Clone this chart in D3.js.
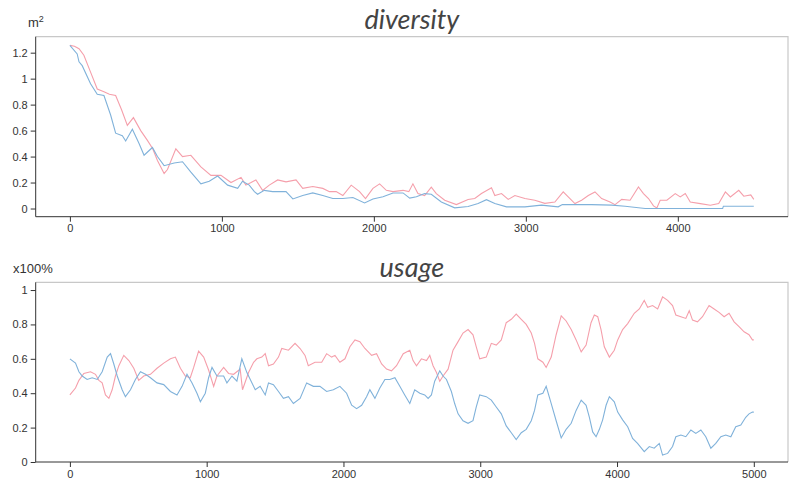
<!DOCTYPE html>
<html>
<head>
<meta charset="utf-8">
<script src="https://cdn.jsdelivr.net/npm/d3@7"></script>
<style>
  body { margin: 0; background: #fff; }
  svg { display: block; }
  .tick text { font-family: "Liberation Sans", Arial, sans-serif; font-size: 11px; fill: #333; }
  .title { font-family: Lato, "Open Sans", sans-serif; font-style: italic; font-size: 27px; fill: #444; }
  .unit { font-family: "Liberation Sans", Arial, sans-serif; font-size: 13px; fill: #333; }
</style>
</head>
<body>
<svg id="chart" width="793" height="480"></svg>
<script>
// readings as [t, value]

// diversity (m^2)
const diversityRed = [
  [0, 1.256], [30, 1.25], [60, 1.23], [92, 1.18], [136, 1.05], [180, 0.92], [224, 0.90], [260, 0.88],
  [301, 0.87], [340, 0.76], [378, 0.64], [418, 0.70], [466, 0.60], [510, 0.525], [545, 0.46], [576, 0.37],
  [620, 0.27], [642, 0.30], [697, 0.46], [741, 0.40], [796, 0.41], [862, 0.32], [928, 0.255], [994, 0.255],
  [1060, 0.20], [1126, 0.24], [1158, 0.18], [1192, 0.20], [1224, 0.22], [1268, 0.14], [1312, 0.18], [1367, 0.22],
  [1422, 0.205], [1488, 0.22], [1532, 0.155], [1598, 0.17], [1664, 0.155], [1708, 0.13], [1752, 0.13], [1796, 0.10],
  [1851, 0.18], [1906, 0.13], [1945, 0.077], [1994, 0.155], [2038, 0.19], [2082, 0.14], [2126, 0.13], [2192, 0.14],
  [2230, 0.13], [2257, 0.19], [2290, 0.115], [2334, 0.10], [2378, 0.165], [2411, 0.115], [2466, 0.064], [2543, 0.03],
  [2620, 0.07], [2664, 0.077], [2708, 0.115], [2774, 0.16], [2796, 0.10], [2840, 0.115], [2884, 0.07], [2928, 0.10],
  [2994, 0.077], [3059, 0.064], [3125, 0.04], [3191, 0.05], [3246, 0.128], [3279, 0.089], [3323, 0.038], [3367, 0.064],
  [3411, 0.10], [3455, 0.128], [3499, 0.077], [3554, 0.05], [3587, 0.03], [3631, 0.07], [3686, 0.064], [3741, 0.166],
  [3774, 0.115], [3807, 0.077], [3840, 0.02], [3862, 0.005], [3884, 0.064], [3928, 0.064], [3983, 0.115], [4016, 0.089],
  [4049, 0.115], [4082, 0.05], [4148, 0.038], [4214, 0.025], [4269, 0.038], [4313, 0.128], [4346, 0.089], [4401, 0.14],
  [4434, 0.095], [4480, 0.105], [4500, 0.07]
]
const diversityBlue = [
  [0, 1.256], [48, 1.19], [60, 1.13], [81, 1.10], [136, 0.96], [180, 0.88], [224, 0.87], [268, 0.72],
  [301, 0.58], [345, 0.56], [367, 0.52], [411, 0.61], [455, 0.50], [488, 0.41], [543, 0.47], [576, 0.40],
  [620, 0.33], [686, 0.35], [741, 0.36], [796, 0.28], [862, 0.19], [917, 0.21], [972, 0.25], [1038, 0.18],
  [1104, 0.155], [1136, 0.21], [1180, 0.18], [1214, 0.13], [1235, 0.11], [1279, 0.14], [1334, 0.13], [1422, 0.13],
  [1467, 0.074], [1532, 0.10], [1598, 0.12], [1664, 0.10], [1730, 0.077], [1796, 0.077], [1862, 0.085], [1939, 0.043],
  [1994, 0.074], [2060, 0.09], [2126, 0.12], [2192, 0.12], [2236, 0.08], [2280, 0.09], [2334, 0.115], [2378, 0.11],
  [2444, 0.05], [2532, 0.005], [2620, 0.015], [2686, 0.038], [2741, 0.068], [2796, 0.038], [2873, 0.013], [2994, 0.013],
  [3103, 0.026], [3213, 0.013], [3240, 0.03], [3433, 0.03], [3565, 0.026], [3653, 0.018], [3785, 0.0], [4295, 0.0],
  [4300, 0.018], [4500, 0.018]
]

// usage (x100%)
const usageRed = [
  [0, 0.39], [41, 0.43], [66, 0.475], [102, 0.515], [151, 0.525], [187, 0.51], [212, 0.475], [236, 0.46],
  [260, 0.39], [285, 0.37], [309, 0.42], [333, 0.50], [358, 0.56], [394, 0.62], [431, 0.59], [467, 0.545],
  [503, 0.475], [540, 0.50], [589, 0.51], [637, 0.545], [686, 0.575], [735, 0.60], [771, 0.61], [808, 0.545],
  [844, 0.50], [880, 0.49], [905, 0.55], [941, 0.645], [978, 0.61], [1014, 0.535], [1051, 0.44], [1075, 0.50],
  [1124, 0.55], [1160, 0.515], [1197, 0.51], [1245, 0.54], [1262, 0.42], [1306, 0.52], [1343, 0.58], [1367, 0.60],
  [1403, 0.61], [1428, 0.63], [1452, 0.56], [1488, 0.57], [1525, 0.61], [1549, 0.66], [1598, 0.65], [1646, 0.69],
  [1683, 0.66], [1719, 0.62], [1743, 0.56], [1792, 0.58], [1841, 0.58], [1877, 0.63], [1914, 0.61], [1938, 0.62],
  [1974, 0.58], [2011, 0.60], [2047, 0.67], [2084, 0.71], [2120, 0.70], [2157, 0.66], [2206, 0.62], [2242, 0.63],
  [2279, 0.57], [2315, 0.54], [2351, 0.53], [2388, 0.56], [2437, 0.63], [2485, 0.65], [2509, 0.59], [2534, 0.56],
  [2570, 0.60], [2607, 0.59], [2631, 0.62], [2655, 0.56], [2680, 0.52], [2704, 0.47], [2728, 0.50], [2765, 0.54],
  [2801, 0.65], [2838, 0.70], [2874, 0.75], [2911, 0.77], [2947, 0.74], [2971, 0.67], [2996, 0.60], [3044, 0.61],
  [3081, 0.69], [3117, 0.68], [3154, 0.71], [3190, 0.81], [3227, 0.83], [3263, 0.86], [3300, 0.83], [3336, 0.80],
  [3373, 0.75], [3397, 0.69], [3421, 0.60], [3458, 0.58], [3482, 0.55], [3519, 0.61], [3555, 0.74], [3592, 0.85],
  [3628, 0.82], [3665, 0.77], [3701, 0.71], [3738, 0.64], [3774, 0.68], [3810, 0.81], [3834, 0.855], [3859, 0.845],
  [3883, 0.77], [3907, 0.67], [3944, 0.61], [3980, 0.65], [4005, 0.71], [4041, 0.77], [4078, 0.805], [4126, 0.865],
  [4163, 0.89], [4199, 0.94], [4224, 0.90], [4260, 0.91], [4297, 0.89], [4333, 0.96], [4370, 0.94], [4406, 0.91],
  [4430, 0.855], [4467, 0.845], [4503, 0.835], [4528, 0.88], [4552, 0.825], [4588, 0.815], [4625, 0.845], [4673, 0.91],
  [4710, 0.89], [4746, 0.87], [4783, 0.845], [4819, 0.865], [4856, 0.815], [4892, 0.787], [4929, 0.757], [4965, 0.74],
  [4990, 0.71], [5000, 0.71]
]
const usageBlue = [
  [0, 0.60], [41, 0.575], [66, 0.525], [90, 0.50], [126, 0.48], [163, 0.49], [200, 0.48], [236, 0.525],
  [273, 0.61], [297, 0.63], [321, 0.57], [346, 0.50], [382, 0.42], [406, 0.38], [443, 0.42], [479, 0.48],
  [516, 0.525], [553, 0.51], [589, 0.49], [637, 0.46], [686, 0.45], [735, 0.41], [783, 0.39], [820, 0.44],
  [856, 0.51], [893, 0.46], [929, 0.40], [954, 0.35], [990, 0.40], [1014, 0.49], [1039, 0.55], [1075, 0.50],
  [1124, 0.50], [1148, 0.46], [1185, 0.50], [1221, 0.47], [1257, 0.60], [1294, 0.52], [1355, 0.42], [1391, 0.44],
  [1428, 0.39], [1452, 0.46], [1488, 0.45], [1525, 0.41], [1561, 0.37], [1598, 0.38], [1634, 0.34], [1683, 0.37],
  [1731, 0.46], [1780, 0.44], [1828, 0.44], [1877, 0.41], [1926, 0.42], [1974, 0.44], [2023, 0.40], [2060, 0.33],
  [2096, 0.31], [2133, 0.33], [2169, 0.38], [2193, 0.42], [2230, 0.37], [2266, 0.43], [2303, 0.48], [2339, 0.48],
  [2376, 0.49], [2412, 0.44], [2448, 0.39], [2485, 0.34], [2521, 0.42], [2558, 0.40], [2594, 0.39], [2619, 0.37],
  [2643, 0.39], [2667, 0.47], [2704, 0.53], [2728, 0.50], [2753, 0.48], [2789, 0.41], [2813, 0.34], [2838, 0.28],
  [2874, 0.24], [2911, 0.225], [2947, 0.24], [2971, 0.32], [2996, 0.39], [3044, 0.38], [3081, 0.36], [3117, 0.32],
  [3154, 0.28], [3190, 0.21], [3227, 0.17], [3263, 0.13], [3300, 0.17], [3336, 0.19], [3373, 0.24], [3397, 0.30],
  [3421, 0.39], [3458, 0.40], [3482, 0.44], [3519, 0.34], [3555, 0.24], [3592, 0.14], [3628, 0.19], [3665, 0.225],
  [3701, 0.30], [3738, 0.36], [3774, 0.33], [3798, 0.26], [3822, 0.175], [3847, 0.147], [3871, 0.19], [3895, 0.245],
  [3920, 0.33], [3944, 0.38], [3980, 0.35], [4005, 0.29], [4041, 0.245], [4078, 0.205], [4114, 0.137], [4150, 0.108],
  [4199, 0.06], [4236, 0.09], [4272, 0.08], [4309, 0.108], [4333, 0.04], [4370, 0.05], [4406, 0.09], [4430, 0.147],
  [4467, 0.157], [4503, 0.147], [4540, 0.186], [4576, 0.166], [4613, 0.186], [4649, 0.147], [4686, 0.08], [4722, 0.108],
  [4759, 0.147], [4795, 0.157], [4832, 0.147], [4868, 0.205], [4905, 0.215], [4941, 0.26], [4965, 0.28], [4990, 0.29],
  [5000, 0.29]
]

const diversityXTicks = [0, 1000, 2000, 3000, 4000]
const diversityYTicks = [0, 0.2, 0.4, 0.6, 0.8, 1, 1.2]
const usageXTicks = [0, 1000, 2000, 3000, 4000, 5000]
const usageYTicks = [0, 0.2, 0.4, 0.6, 0.8, 1]

const colors = { red: '#f59fab', blue: '#80b2da' }

const svg = d3.select('#chart')

const drawPanel = ({ top, bottom, xDomain, yDomain, xTicks, yTicks, title, unit, titleY, unitX, unitY, red, blue }) => {
  const left = 35.7
  const right = 788
  const x = d3.scaleLinear().domain(xDomain).range([left, right])
  const y = d3.scaleLinear().domain(yDomain).range([bottom, top])
  const g = svg.append('g')

  // light frame on top and right
  g.append('path')
    .attr('d', `M${left},${top}H${right}V${bottom}`)
    .attr('fill', 'none')
    .attr('stroke', '#c8c8c8')
    .attr('stroke-width', 1.2)

  const line = d3.line()
    .x(([t]) => x(t))
    .y(([, v]) => y(v))

  g.append('path')
    .datum(red)
    .attr('fill', 'none')
    .attr('stroke', colors.red)
    .attr('stroke-width', 1.1)
    .attr('d', line)

  g.append('path')
    .datum(blue)
    .attr('fill', 'none')
    .attr('stroke', colors.blue)
    .attr('stroke-width', 1.1)
    .attr('d', line)

  const fmt = d3.format('~g')

  g.append('g')
    .attr('transform', `translate(0,${bottom})`)
    .call(d3.axisBottom(x).tickValues(xTicks).tickSize(5).tickPadding(3).tickFormat(fmt))
    .call(a => a.select('.domain').attr('stroke', '#333').attr('d', `M${left},0H${right}`))
    .call(a => a.selectAll('.tick line').attr('stroke', '#333'))

  g.append('g')
    .attr('transform', `translate(${left},0)`)
    .call(d3.axisLeft(y).tickValues(yTicks).tickSize(5).tickPadding(3).tickFormat(fmt))
    .call(a => a.select('.domain').attr('stroke', '#333').attr('d', `M0,${top}V${bottom}`))
    .call(a => a.selectAll('.tick line').attr('stroke', '#333'))

  g.append('text')
    .attr('class', 'title')
    .attr('x', (left + right) / 2)
    .attr('y', titleY)
    .attr('text-anchor', 'middle')
    .text(title)

  g.append('text')
    .attr('class', 'unit')
    .attr('x', unitX)
    .attr('y', unitY)
    .html(unit)
}

drawPanel({
  top: 36.7, bottom: 216.7,
  xDomain: [-225, 4725], yDomain: [-0.063, 1.323],
  xTicks: diversityXTicks, yTicks: diversityYTicks,
  title: 'diversity', titleY: 29,
  unit: 'm<tspan dy="-5" font-size="9">2</tspan>', unitX: 28, unitY: 27,
  red: diversityRed, blue: diversityBlue
})

drawPanel({
  top: 282.3, bottom: 462,
  xDomain: [-250, 5250], yDomain: [0, 1.045],
  xTicks: usageXTicks, yTicks: usageYTicks,
  title: 'usage', titleY: 277,
  unit: 'x100%', unitX: 13, unitY: 273,
  red: usageRed, blue: usageBlue
})
</script>
</body>
</html>
